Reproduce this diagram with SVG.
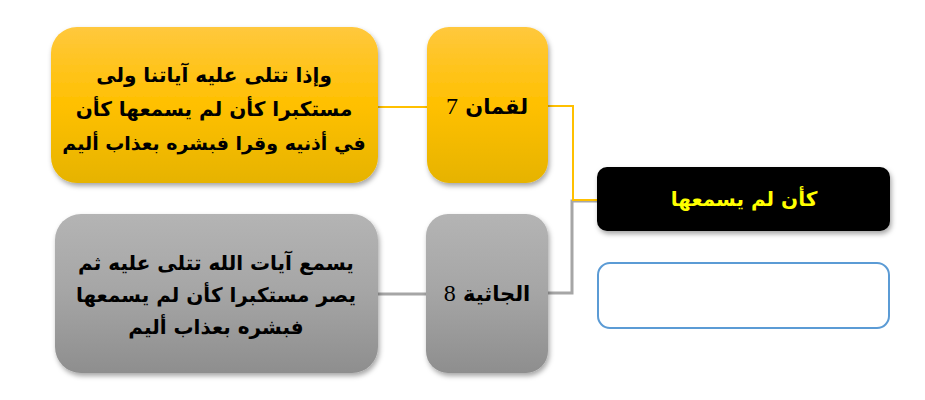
<svg xmlns="http://www.w3.org/2000/svg" width="925" height="400" viewBox="0 0 925 400">
<style>
.ar{font-family:"DejaVu Sans","Noto Sans",sans-serif;font-weight:bold;font-size:20px;fill:#000;}
.sm{font-size:19px;}
.lab{font-size:21px;}
.num{font-family:"Liberation Serif",serif;font-weight:normal;font-size:24px;}
.title{fill:#FFFF00;font-size:20px;}
.cy{fill:none;stroke:#FFC000;stroke-width:2;}
.cg{fill:none;stroke:#A6A6A6;stroke-width:3;}
</style>
<defs>
<linearGradient id="gy" x1="0" y1="0" x2="0" y2="1">
<stop offset="0" stop-color="#FFC83D"/>
<stop offset="0.5" stop-color="#FFC000"/>
<stop offset="1" stop-color="#E6B300"/>
</linearGradient>
<linearGradient id="gg" x1="0" y1="0" x2="0" y2="1">
<stop offset="0" stop-color="#B4B4B4"/>
<stop offset="0.5" stop-color="#A5A5A5"/>
<stop offset="1" stop-color="#8E8E8E"/>
</linearGradient>
<filter id="sh" x="-10%" y="-10%" width="125%" height="130%">
<feDropShadow dx="1.5" dy="3" stdDeviation="2.5" flood-color="#000" flood-opacity="0.35"/>
</filter>
</defs>
<g id="connectors">
<polyline class="cg" points="378,294 426,294"/>
<polyline class="cg" points="548,293 572,293 572,201 597,201"/>
<polyline class="cy" points="378,107 427,107"/>
<polyline class="cy" points="548,106 573,106 573,200 597,200"/>
</g>
<g id="verse-luqman">
<rect x="51" y="27" width="327" height="156" rx="26" fill="url(#gy)" filter="url(#sh)"/>
<text class="ar" direction="rtl" text-anchor="middle" x="214" y="82">وإذا تتلى عليه آياتنا ولى</text>
<text class="ar" direction="rtl" text-anchor="middle" x="214" y="116">مستكبرا كأن لم يسمعها كأن</text>
<text class="ar sm" direction="rtl" text-anchor="middle" x="214" y="150">في أذنيه وقرا فبشره بعذاب أليم</text>
</g>
<g id="label-luqman">
<rect x="427" y="27" width="121" height="156" rx="22" fill="url(#gy)" filter="url(#sh)"/>
<text class="ar lab" direction="rtl" text-anchor="middle" x="487" y="114">لقمان <tspan class="num">7</tspan></text>
</g>
<g id="verse-jathiya">
<rect x="55" y="214" width="323" height="159" rx="26" fill="url(#gg)" filter="url(#sh)"/>
<text class="ar" direction="rtl" text-anchor="middle" x="216" y="270">يسمع آيات الله تتلى عليه ثم</text>
<text class="ar" direction="rtl" text-anchor="middle" x="216" y="302">يصر مستكبرا كأن لم يسمعها</text>
<text class="ar" direction="rtl" text-anchor="middle" x="216" y="334">فبشره بعذاب أليم</text>
</g>
<g id="label-jathiya">
<rect x="426" y="214" width="122" height="159" rx="22" fill="url(#gg)" filter="url(#sh)"/>
<text class="ar lab" direction="rtl" text-anchor="middle" x="487" y="301">الجاثية <tspan class="num">8</tspan></text>
</g>
<g id="title">
<rect x="597" y="167" width="293" height="64" rx="10" fill="#000" filter="url(#sh)"/>
<text class="ar title" direction="rtl" text-anchor="middle" x="744" y="206">كأن لم يسمعها</text>
</g>
<g id="empty-box">
<rect x="598" y="263" width="291" height="65" rx="12" fill="#FFF" stroke="#5B9BD5" stroke-width="2"/>
</g>
</svg>
